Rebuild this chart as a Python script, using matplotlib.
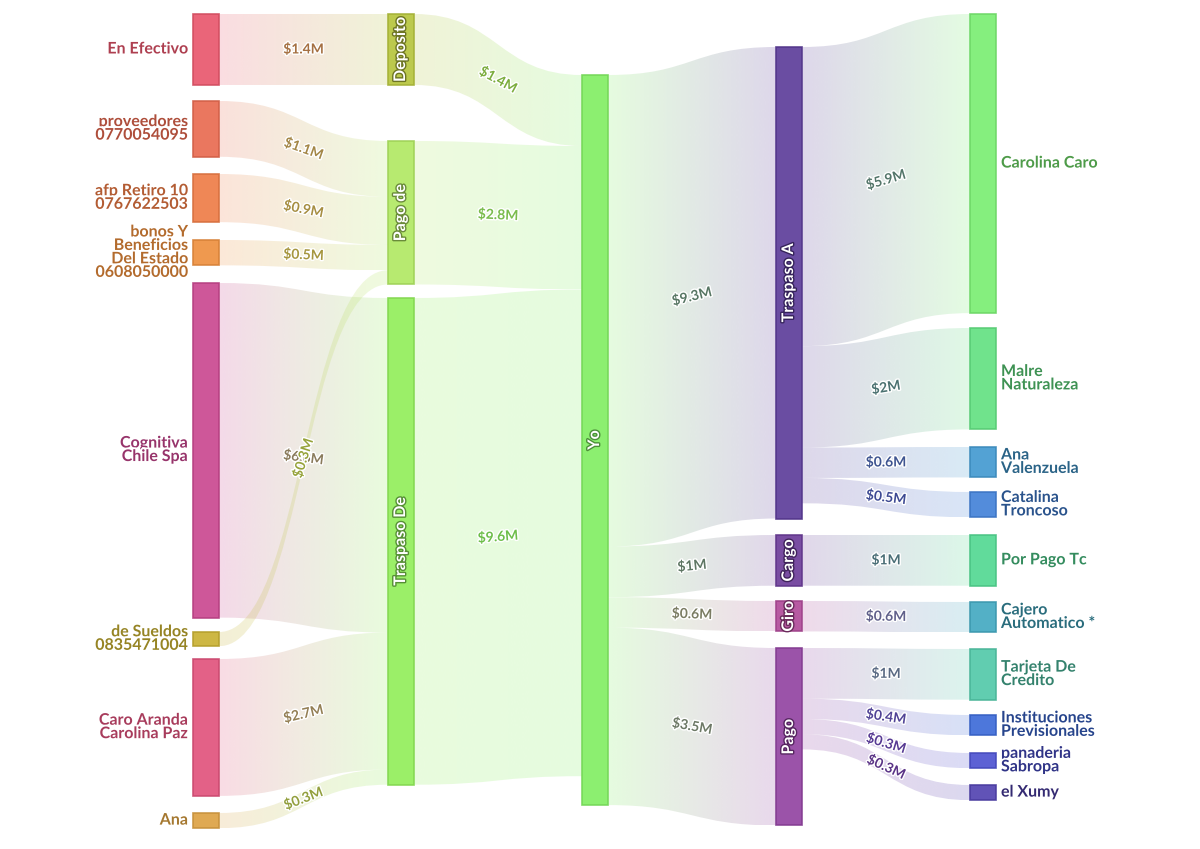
import numpy as np
import matplotlib
matplotlib.use("Agg")
import matplotlib.pyplot as plt
from matplotlib.path import Path
from matplotlib.patches import PathPatch, Rectangle
import matplotlib.patheffects as pe
from matplotlib.colors import to_rgb

# ---------------- data ----------------
node_names = ["En Efectivo", "proveedores\n0770054095", "afp Retiro 10\n0767622503",
              "bonos Y\nBeneficios\nDel Estado\n0608050000", "Cognitiva\nChile Spa",
              "de Sueldos\n0835471004", "Caro Aranda\nCarolina Paz", "Ana",
              "Deposito", "Pago de", "Traspaso De",
              "Yo",
              "Traspaso A", "Cargo", "Giro", "Pago",
              "Carolina Caro", "Malre\nNaturaleza", "Ana\nValenzuela", "Catalina\nTroncoso",
              "Por Pago Tc", "Cajero\nAutomatico *", "Tarjeta De\nCredito",
              "Instituciones\nPrevisionales", "panaderia\nSabropa", "el Xumy"]
node_colors = ["#e8546a", "#e8684e", "#ee7a44", "#ee8e3c", "#c9458e", "#c8b030", "#e0507a", "#dca040",
               "#b5c33a", "#b0e860", "#90ee58",
               "#80ee60",
               "#5a3a98", "#6a3a98", "#b04898", "#9040a0",
               "#78ee70", "#60e080", "#4098d0", "#4080d8", "#50d890", "#40a8c0", "#50c8a8",
               "#3a68d8", "#4a50d0", "#5040b0"]
node_column = [0]*8 + [1]*3 + [2] + [3]*4 + [4]*10

link_source = [0, 1, 2, 3, 4, 5, 6, 7, 8, 9, 10, 11, 11, 11, 11,
               12, 12, 12, 12, 13, 14, 15, 15, 15, 15]
link_target = [8, 9, 9, 9, 10, 9, 10, 10, 11, 11, 11, 12, 13, 14, 15,
               16, 17, 18, 19, 20, 21, 22, 23, 24, 25]
link_value = [1.4, 1.1, 0.95, 0.5, 6.6, 0.28, 2.7, 0.3, 1.4, 2.83, 9.6, 9.3, 1.0, 0.6, 3.5,
              5.9, 2.0, 0.6, 0.5, 1.0, 0.6, 1.0, 0.4, 0.3, 0.3]

# ---------------- layout ----------------
col_x = [193, 388, 582, 776, 970]
node_w = 26
node_top = [14, 101, 174, 240, 283, 632, 659, 813,
            14, 141, 298,
            75,
            47, 535, 601, 648,
            14, 328, 447, 492, 535, 602, 649, 715, 753, 785]
scale = 50.7

n = len(node_names)
vin = np.zeros(n); vout = np.zeros(n)
for s, t, v in zip(link_source, link_target, link_value):
    vout[s] += v; vin[t] += v
node_val = np.maximum(vin, vout)
node_h = node_val * scale

def darker(c, f=0.78):
    r = np.array(to_rgb(c)); return tuple(r*f)

fig = plt.figure(figsize=(12, 8.49), dpi=100)
ax = fig.add_axes([0, 0, 1, 1])
ax.axis("off")

# link stacking offsets
out_off = {i: 0.0 for i in range(n)}
in_off = {i: 0.0 for i in range(n)}
order = sorted(range(len(link_value)), key=lambda k: node_top[link_target[k]])
src_y = {}
for k in order:
    s = link_source[k]
    src_y[k] = node_top[s] + out_off[s]; out_off[s] += link_value[k]*scale
order2 = sorted(range(len(link_value)), key=lambda k: node_top[link_source[k]])
tgt_y = {}
for k in order2:
    t = link_target[k]
    tgt_y[k] = node_top[t] + in_off[t]; in_off[t] += link_value[k]*scale

def fmt(v):
    s = f"{v:.1f}"
    if s.endswith(".0"): s = s[:-2]
    return f"${s}M"

for k, v in enumerate(link_value):
    s, t = link_source[k], link_target[k]
    x0 = col_x[node_column[s]] + node_w
    x1 = col_x[node_column[t]]
    xm = (x0 + x1) / 2
    h = v*scale
    y0, y1 = src_y[k], tgt_y[k]
    verts = [(x0, y0), (xm, y0), (xm, y1), (x1, y1),
             (x1, y1+h), (xm, y1+h), (xm, y0+h), (x0, y0+h), (x0, y0)]
    codes = [Path.MOVETO, Path.CURVE4, Path.CURVE4, Path.CURVE4,
             Path.LINETO, Path.CURVE4, Path.CURVE4, Path.CURVE4, Path.CLOSEPOLY]
    patch = PathPatch(Path(verts, codes), facecolor="none", edgecolor="none")
    ax.add_patch(patch)
    c0 = np.array(to_rgb(node_colors[s])); c1 = np.array(to_rgb(node_colors[t]))
    tt = np.linspace(0, 1, 64)[:, None]
    grad = np.concatenate([c0*(1-tt) + c1*tt, np.full((64, 1), 0.2)], axis=1)[None]
    im = ax.imshow(grad, extent=(x0, x1, max(y0, y1)+h, min(y0, y1)), aspect="auto",
                   interpolation="bilinear", zorder=1)
    im.set_clip_path(patch)
    # label
    ym = (y0 + y1)/2 + h/2
    ang = -np.degrees(np.arctan(1.5*(y1-y0)/(x1-x0)))
    lc = darker(tuple((c0+c1)/2), 0.8)
    ax.text(xm, ym, fmt(v), ha="center", va="center", rotation=ang, rotation_mode="anchor",
            fontsize=10, color=lc, fontfamily="Lato", fontweight="bold", zorder=3,
            path_effects=[pe.withStroke(linewidth=2, foreground="white")])

for i in range(n):
    c = node_colors[i]; x = col_x[node_column[i]]
    ax.add_patch(Rectangle((x, node_top[i]), node_w, node_h[i], facecolor=c, alpha=0.9,
                           edgecolor=darker(c, 0.9), linewidth=1.2, zorder=2))
    col = node_column[i]
    cy = node_top[i] + node_h[i]/2
    if col == 0:
        ax.text(x-5, cy, node_names[i], ha="right", va="center", fontsize=11.5, linespacing=0.95,
                color=darker(c, 0.75), fontfamily="Lato", fontweight="bold", zorder=4,
                multialignment="right",
                path_effects=[pe.withStroke(linewidth=2.5, foreground="white")])
    elif col == 4:
        ax.text(x+node_w+5, cy, node_names[i], ha="left", va="center", fontsize=11.5, linespacing=0.95,
                color=darker(c, 0.65), fontfamily="Lato", fontweight="bold", zorder=4,
                path_effects=[pe.withStroke(linewidth=2.5, foreground="white")])
    else:
        ax.text(x+node_w/2, cy, node_names[i], ha="center", va="center", rotation=90,
                fontsize=11.5, color="white", fontfamily="Lato", fontweight="bold", zorder=4,
                path_effects=[pe.withStroke(linewidth=2, foreground=darker(c, 0.6))])

ax.set_xlim(0, 1200)
ax.set_ylim(849, 0)
fig.savefig("out.png", dpi=100)
